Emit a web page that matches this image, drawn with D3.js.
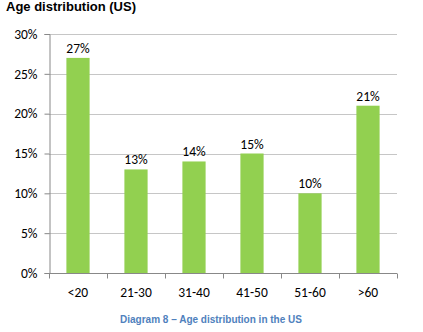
<!DOCTYPE html>
<html>
<head>
<meta charset="utf-8">
<script src="https://cdn.jsdelivr.net/npm/d3@7"></script>
<style>
  html, body { margin: 0; padding: 0; background: #fff; }
  svg { display: block; }
</style>
</head>
<body>
<svg id="chart" width="423" height="332"></svg>
<script>
// Age groups and share of population in each
const categories = ["<20", "21-30", "31-40", "41-50", "51-60", ">60"];
const values = [27, 13, 14, 15, 10, 21];
const yTicks = [0, 5, 10, 15, 20, 25, 30];

const svg = d3.select("#chart");
const margin = { left: 49, right: 26, top: 34, bottom: 59 };
const W = 423, H = 332;

const x = d3.scaleBand()
  .domain(categories)
  .range([margin.left, W - margin.right])
  .paddingInner(0.6)
  .paddingOuter(0.3);

const y = d3.scaleLinear()
  .domain([0, 30])
  .range([H - margin.bottom, margin.top]);

const labelFont = "Carlito, Calibri, 'Liberation Sans', Arial, sans-serif";

// Title
svg.append("text")
  .attr("x", 6).attr("y", 11)
  .attr("font-family", "Arial, 'Liberation Sans', sans-serif")
  .attr("font-weight", "bold")
  .attr("font-size", 13)
  .attr("fill", "#000")
  .text("Age distribution (US)");

// Horizontal gridlines
svg.append("g")
  .selectAll("line")
  .data(yTicks.filter(d => d > 0))
  .join("line")
  .attr("x1", margin.left).attr("x2", W - margin.right)
  .attr("y1", d => Math.round(y(d)) + 0.5).attr("y2", d => Math.round(y(d)) + 0.5)
  .attr("stroke", "#c6c6c6").attr("stroke-width", 1);

// Y axis
const yAxis = svg.append("g")
  .attr("transform", `translate(${margin.left + 0.5},0)`)
  .call(d3.axisLeft(y).tickValues(yTicks).tickSize(5).tickPadding(7).tickFormat(d => d + "%"));
yAxis.select(".domain").attr("stroke", "#888");
yAxis.selectAll(".tick line").attr("stroke", "#888");
yAxis.selectAll(".tick text")
  .attr("font-family", labelFont).attr("font-size", 13.5).attr("fill", "#000");

// Bars
svg.append("g")
  .selectAll("rect")
  .data(values)
  .join("rect")
  .attr("x", (d, i) => x(categories[i]))
  .attr("width", x.bandwidth())
  .attr("y", d => y(d))
  .attr("height", d => y(0) - y(d))
  .attr("fill", "#92d050");

// Value labels
svg.append("g")
  .selectAll("text")
  .data(values)
  .join("text")
  .attr("x", (d, i) => x(categories[i]) + x.bandwidth() / 2)
  .attr("y", d => y(d) - 5)
  .attr("text-anchor", "middle")
  .attr("font-family", labelFont).attr("font-size", 13.5).attr("fill", "#000")
  .text(d => d + "%");

// X axis with ticks between categories
const xAxisG = svg.append("g")
  .attr("transform", `translate(0,${Math.round(y(0)) + 0.5})`);
xAxisG.append("line")
  .attr("x1", margin.left).attr("x2", W - margin.right)
  .attr("stroke", "#888");
const edges = d3.range(categories.length + 1).map(i => margin.left + i * (W - margin.left - margin.right) / categories.length);
xAxisG.selectAll("line.t")
  .data(edges)
  .join("line").attr("class", "t")
  .attr("x1", d => Math.round(d) + 0.5).attr("x2", d => Math.round(d) + 0.5)
  .attr("y1", 0).attr("y2", 5)
  .attr("stroke", "#888");
xAxisG.selectAll("text")
  .data(categories)
  .join("text")
  .attr("x", d => x(d) + x.bandwidth() / 2)
  .attr("y", 23)
  .attr("text-anchor", "middle")
  .attr("font-family", labelFont).attr("font-size", 13.5).attr("fill", "#000")
  .text(d => d);

// Caption
svg.append("text")
  .attr("x", 211).attr("y", 323)
  .attr("text-anchor", "middle")
  .attr("font-family", "Arial, 'Liberation Sans', sans-serif")
  .attr("font-weight", "bold")
  .attr("font-size", 10)
  .attr("fill", "#4f81bd")
  .text("Diagram 8 – Age distribution in the US");
</script>
</body>
</html>
